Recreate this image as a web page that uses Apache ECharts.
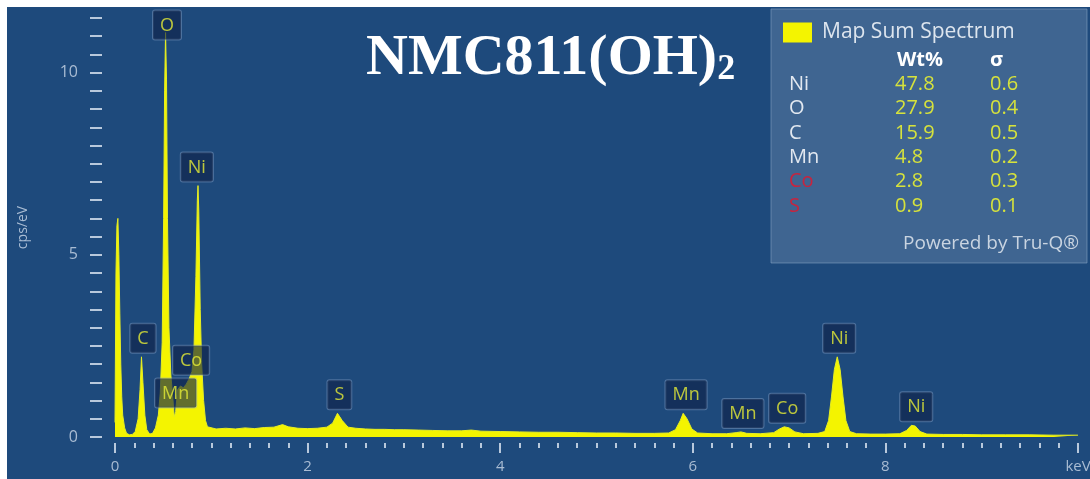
<!DOCTYPE html>
<html>
<head>
<meta charset="utf-8">
<title>NMC811(OH)2 EDS</title>
<script src="https://cdn.jsdelivr.net/npm/echarts@6.0.0/dist/echarts.min.js"></script>
<style>
html, body { margin: 0; padding: 0; background: #fff; }
#main { width: 1090px; height: 479px; }
</style>
</head>
<body>
<div id="main"></div>
<script>
// spectrum: energy (keV) and counts (cps/eV)
var energy = [0.00, 0.01, 0.02, 0.03, 0.04, 0.05, 0.06, 0.07, 0.08, 0.10, 0.12, 0.15, 0.18, 0.21, 0.24, 0.26, 0.275, 0.29, 0.31, 0.33,
  0.36, 0.39, 0.42, 0.45, 0.47, 0.49, 0.505, 0.515, 0.525, 0.535, 0.545, 0.56, 0.58, 0.60, 0.615, 0.63, 0.65, 0.68, 0.71, 0.74,
  0.77, 0.80, 0.82, 0.84, 0.855, 0.862, 0.87, 0.885, 0.90, 0.92, 0.94, 0.96, 0.98, 1.05, 1.15, 1.25, 1.35, 1.45, 1.55, 1.65,
  1.74, 1.80, 1.90, 2.00, 2.10, 2.20, 2.26, 2.31, 2.36, 2.42, 2.50, 2.60, 2.70, 2.80, 2.90, 3.00, 3.15, 3.30, 3.45, 3.60,
  3.70, 3.80, 4.00, 4.20, 4.40, 4.60, 4.80, 5.00, 5.20, 5.40, 5.60, 5.75, 5.82, 5.87, 5.90, 5.94, 5.99, 6.05, 6.20, 6.35,
  6.45, 6.50, 6.56, 6.70, 6.84, 6.90, 6.95, 7.00, 7.06, 7.15, 7.30, 7.37, 7.41, 7.44, 7.47, 7.50, 7.53, 7.56, 7.59, 7.63,
  7.70, 7.85, 8.00, 8.15, 8.22, 8.27, 8.31, 8.36, 8.43, 8.60, 8.80, 9.00, 9.25, 9.50, 9.75, 10.00];
var cps = [0.4, 4.5, 5.8, 6.0, 5.0, 3.4, 2.0, 1.1, 0.6, 0.25, 0.1, 0.06, 0.07, 0.15, 0.5, 1.3, 2.2, 1.5, 0.6, 0.2,
  0.08, 0.1, 0.25, 0.6, 1.2, 2.6, 6.0, 9.5, 11.1, 9.8, 6.0, 3.0, 1.7, 1.1, 0.55, 0.7, 1.3, 1.4, 1.35, 1.45,
  1.6, 1.8, 2.4, 4.4, 6.5, 6.9, 6.2, 3.5, 2.0, 1.0, 0.45, 0.28, 0.24, 0.22, 0.24, 0.22, 0.25, 0.23, 0.26, 0.27,
  0.34, 0.28, 0.24, 0.23, 0.24, 0.27, 0.38, 0.65, 0.45, 0.27, 0.24, 0.22, 0.21, 0.21, 0.2, 0.2, 0.19, 0.18, 0.17, 0.17,
  0.19, 0.16, 0.15, 0.14, 0.13, 0.13, 0.12, 0.11, 0.11, 0.1, 0.1, 0.11, 0.2, 0.45, 0.65, 0.5, 0.22, 0.11, 0.09, 0.09,
  0.12, 0.14, 0.1, 0.09, 0.12, 0.22, 0.28, 0.25, 0.14, 0.09, 0.1, 0.15, 0.45, 1.1, 1.85, 2.2, 1.85, 1.1, 0.45, 0.15,
  0.09, 0.08, 0.08, 0.09, 0.18, 0.32, 0.3, 0.15, 0.08, 0.07, 0.07, 0.06, 0.06, 0.06, 0.05, 0.05];

// peak identification boxes
var peakNames = ['O', 'Ni', 'C', 'Co', 'Mn', 'S', 'Mn', 'Mn', 'Co', 'Ni', 'Ni'];
var peakKeV = [0.54, 0.85, 0.29, 0.79, 0.63, 2.33, 5.93, 6.52, 6.98, 7.52, 8.32];
var peakCps = [10.8, 6.9, 2.2, 1.6, 0.7, 0.65, 0.65, 0.14, 0.28, 2.2, 0.32];

// quantification table
var elements = ['Ni', 'O', 'C', 'Mn', 'Co', 'S'];
var wtPct = ['47.8', '27.9', '15.9', '4.8', '2.8', '0.9'];
var sigma = ['0.6', '0.4', '0.5', '0.2', '0.3', '0.1'];

var xLabels = { 0: '0', 2: '2', 4: '4', 6: '6', 8: '8', 10: 'keV' };
var yLabels = { 0: '0', 5: '5', 10: '10' };

var chart = echarts.init(document.getElementById('main'));

var spectrum = energy.map(function (e, i) { return [e, cps[i]]; });
var peaks = peakNames.map(function (n, i) {
  return { name: n, value: [peakKeV[i], peakCps[i]] };
});

var uiFont = '"Open Sans", "DejaVu Sans", sans-serif';
var serif = '"Liberation Serif", "DejaVu Serif", serif';
var axisColor = '#a9bcd3';
var tickColor = '#b9c9dc';

/*background, info box and table*/
var graphics = [
  { type: 'rect', z: -10, shape: { x: 7, y: 7, width: 1083, height: 472 }, style: { fill: '#1e4a7c' } },
  { type: 'rect', z: 1, shape: { x: 771, y: 9, width: 316, height: 254 },
    style: { fill: 'rgba(95,128,165,0.5)', stroke: 'rgba(130,160,195,0.6)', lineWidth: 1 } },
  { type: 'text', z: 5, style: { x: 366, y: 59, text: '{m|NMC811(OH)}{s|2}', verticalAlign: 'middle',
    rich: {
      m: { fontFamily: serif, fontWeight: 'bold', fontSize: 58, fill: '#ffffff' },
      s: { fontFamily: serif, fontWeight: 'bold', fontSize: 36, fill: '#ffffff', verticalAlign: 'bottom' }
    } } },
  { type: 'text', z: 5, style: { x: 897, y: 60, text: 'Wt%', fill: '#ffffff', font: 'bold 20px ' + uiFont, verticalAlign: 'middle' } },
  { type: 'text', z: 5, style: { x: 990, y: 60, text: 'σ', fill: '#ffffff', font: 'bold 20px ' + uiFont, verticalAlign: 'middle' } },
  { type: 'text', z: 5, style: { x: 1079, y: 244, text: 'Powered by Tru-Q®', fill: '#c9d4e1', font: '19px ' + uiFont, align: 'right', verticalAlign: 'middle' } }
];
elements.forEach(function (el, i) {
  var y = 84 + i * 24.4;
  var red = (el === 'Co' || el === 'S');
  graphics.push({ type: 'text', z: 5, style: { x: 789, y: y, text: el, fill: red ? '#c8243e' : '#e2e8f0', font: '20px ' + uiFont, verticalAlign: 'middle' } });
  graphics.push({ type: 'text', z: 5, style: { x: 895, y: y, text: wtPct[i], fill: '#d6e23c', font: '20px ' + uiFont, verticalAlign: 'middle' } });
  graphics.push({ type: 'text', z: 5, style: { x: 990, y: y, text: sigma[i], fill: '#d6e23c', font: '20px ' + uiFont, verticalAlign: 'middle' } });
});

var option = {
  animation: false,
  backgroundColor: '#ffffff',
  grid: { left: 115, right: 12, top: 18, bottom: 42, outerBoundsMode: 'none' },
  legend: {
    data: [{ name: 'Map Sum Spectrum', icon: 'rect' }],
    left: 783,
    top: 22,
    padding: 0,
    itemWidth: 29,
    itemHeight: 20,
    selectedMode: false,
    textStyle: { color: '#dde5ee', fontSize: 21, fontFamily: uiFont, padding: [0, 0, 0, 5] }
  },
  xAxis: {
    type: 'value',
    min: 0,
    max: 10,
    interval: 2,
    offset: 6,
    axisLine: { show: false, onZero: false },
    splitLine: { show: false },
    axisTick: { show: true, length: 10, lineStyle: { color: tickColor, width: 2 } },
    minorTick: { show: true, splitNumber: 10, length: 5, lineStyle: { color: tickColor, width: 2 } },
    minorSplitLine: { show: false },
    axisLabel: {
      margin: 16,
      color: axisColor,
      fontSize: 15,
      fontFamily: uiFont,
      formatter: function (v) { return xLabels[v] !== undefined ? xLabels[v] : ''; }
    }
  },
  yAxis: {
    type: 'value',
    min: 0,
    max: 11.5,
    interval: 0.5,
    offset: 13,
    name: 'cps/eV',
    nameLocation: 'middle',
    nameGap: 72,
    nameRotate: 90,
    nameTextStyle: { color: axisColor, fontSize: 14, fontFamily: uiFont },
    axisLine: { show: false, onZero: false },
    splitLine: { show: false },
    axisTick: { show: true, length: 12, lineStyle: { color: tickColor, width: 2 } },
    axisLabel: {
      margin: 24,
      color: axisColor,
      fontSize: 16,
      fontFamily: uiFont,
      formatter: function (v) { return yLabels[v] !== undefined ? yLabels[v] : ''; }
    }
  },
  series: [{
    name: 'Map Sum Spectrum',
    type: 'line',
    data: spectrum,
    showSymbol: false,
    symbol: 'none',
    itemStyle: { color: '#f4f400' },
    lineStyle: { color: '#e6ee22', width: 1 },
    areaStyle: { color: '#f4f400', opacity: 1 },
    z: 2
  }, {
    name: 'peaks',
    type: 'scatter',
    data: peaks,
    symbolSize: 0,
    clip: false,
    z: 4,
    label: {
      show: true,
      position: 'top',
      distance: 4,
      formatter: '{b}',
      color: '#e6ec36',
      fontSize: 18,
      fontFamily: uiFont,
      backgroundColor: 'rgba(15,35,72,0.8)',
      borderColor: 'rgba(140,165,200,0.55)',
      borderWidth: 1,
      borderRadius: 2,
      padding: [6, 7, 5, 7]
    }
  }],
  graphic: graphics
};
chart.setOption(option);
</script>
</body>
</html>
